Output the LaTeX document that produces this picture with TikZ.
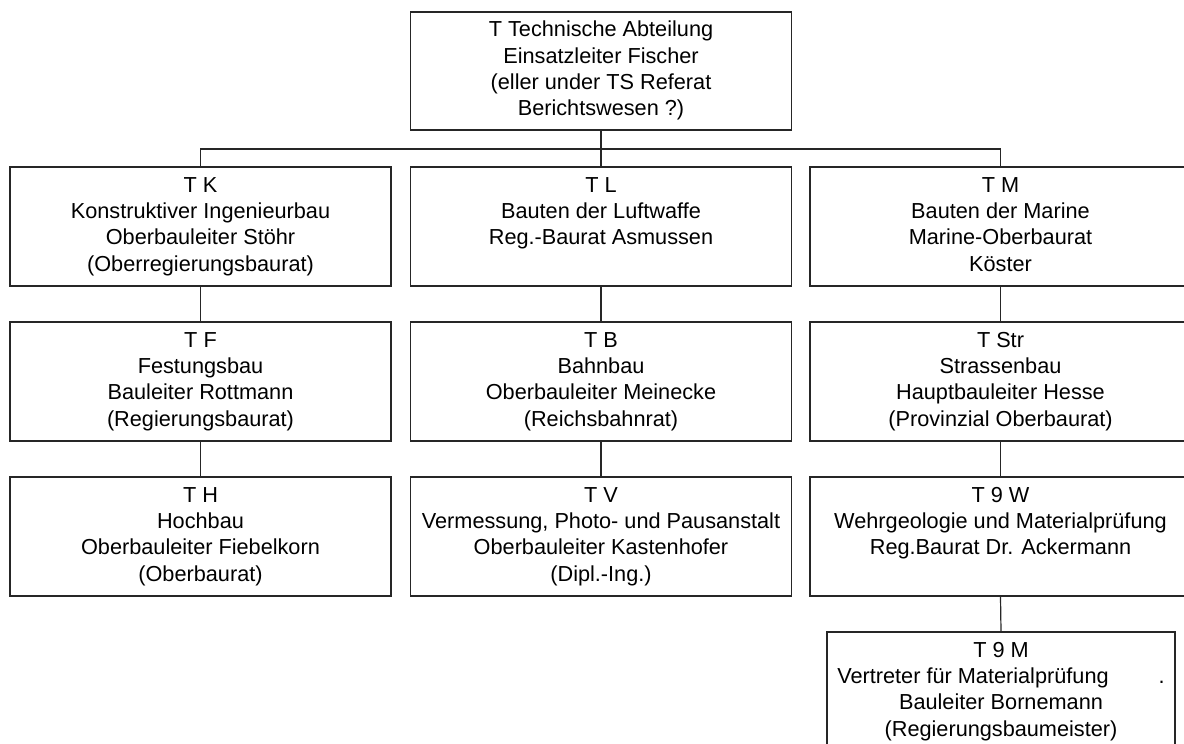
\documentclass[tikz,border=0pt]{standalone}
\usepackage{fontspec}
\setmainfont{Liberation Sans}
\newcommand\chartfont{\fontsize{21.7}{26.3}\selectfont}
\tikzset{
  orgbox/.style={draw=black!85, line width=1.2pt, minimum width=381pt, minimum height=119pt,
    inner sep=0pt, font=\chartfont, text=black, align=center},
  link/.style={draw=black!85, line width=1.2pt}
}
\begin{document}
\begin{tikzpicture}[x=1pt,y=-1pt]
\useasboundingbox (0,0) rectangle (1184,744);
\node[orgbox, minimum height=118pt] (top) at (601,71) {\begin{tabular}{c}T Technische Abteilung\\Einsatzleiter Fischer\\(eller under TS Referat\\Berichtswesen ?)\end{tabular}};
\coordinate (bus) at (601,149);

\node[orgbox] (tk) at (200.5,226.5) {\begin{tabular}{c}T K\\Konstruktiver Ingenieurbau\\Oberbauleiter Stöhr\\(Oberregierungsbaurat)\end{tabular}};
\node[orgbox] (tl) at (601,226.5) {\begin{tabular}{c}T L\\Bauten der Luftwaffe\\Reg.-Baurat Asmussen\\ \strut\end{tabular}};
\node[orgbox] (tm) at (1000.5,226.5) {\begin{tabular}{c}T M\\Bauten der Marine\\Marine-Oberbaurat\\Köster\end{tabular}};

\node[orgbox] (tf) at (200.5,381.5) {\begin{tabular}{c}T F\\Festungsbau\\Bauleiter Rottmann\\(Regierungsbaurat)\end{tabular}};
\node[orgbox] (tb) at (601,381.5) {\begin{tabular}{c}T B\\Bahnbau\\Oberbauleiter Meinecke\\(Reichsbahnrat)\end{tabular}};
\node[orgbox] (tstr) at (1000.5,381.5) {\begin{tabular}{c}T Str\\Strassenbau\\Hauptbauleiter Hesse\\(Provinzial Oberbaurat)\end{tabular}};

\node[orgbox] (th) at (200.5,536.5) {\begin{tabular}{c}T H\\Hochbau\\Oberbauleiter Fiebelkorn\\(Oberbaurat)\end{tabular}};
\node[orgbox] (tv) at (601,536.5) {\begin{tabular}{c}T V\\Vermessung, Photo- und Pausanstalt\\Oberbauleiter Kastenhofer\\(Dipl.-Ing.)\end{tabular}};
\node[orgbox] (t9w) at (1000.5,536.5) {\begin{tabular}{c}T 9 W\\Wehrgeologie und Materialprüfung\\Reg.Baurat Dr. Ackermann\\ \strut\end{tabular}};

\node[orgbox, minimum width=348pt] (t9m) at (1001,691.5) {\begin{tabular}{c}T 9 M\\Vertreter für Materialprüfung\hspace{50pt}.\\Bauleiter Bornemann\\(Regierungsbaumeister)\end{tabular}};

\draw[link] (top.south) -- (bus);
\draw[link] (tk.north) |- (bus) -| (tm.north);
\draw[link] (tl.north) -- (bus);
\draw[link] (tk.south) -- (tf.north);
\draw[link] (tf.south) -- (th.north);
\draw[link] (tl.south) -- (tb.north);
\draw[link] (tb.south) -- (tv.north);
\draw[link] (tm.south) -- (tstr.north);
\draw[link] (tstr.south) -- (t9w.north);
\draw[link] (t9w.south) -- (t9m.north);
\end{tikzpicture}
\end{document}
